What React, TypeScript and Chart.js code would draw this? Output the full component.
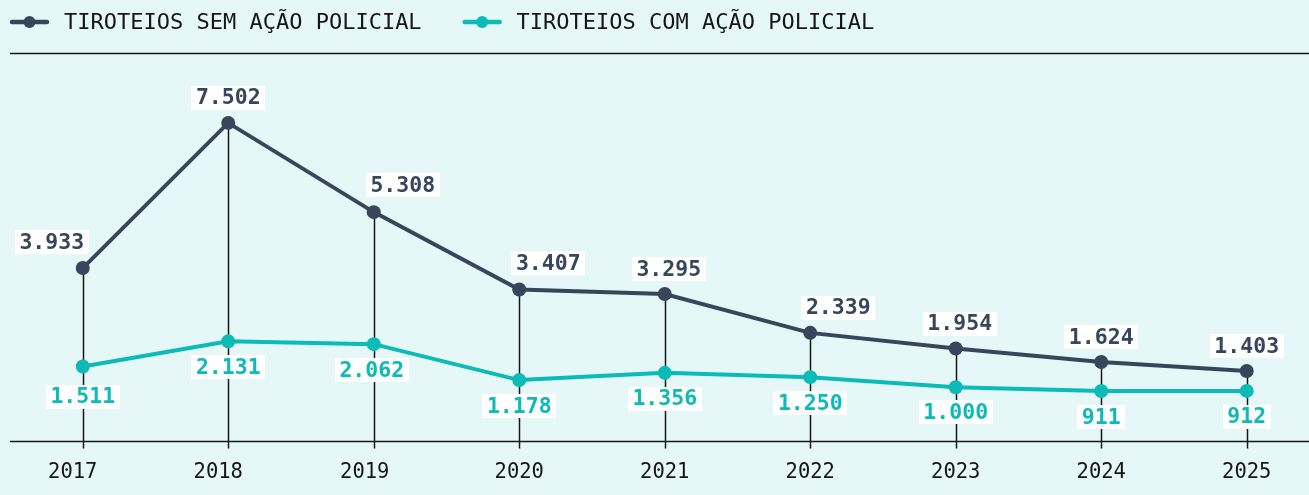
import { useEffect, useRef } from "react";
import { Chart, registerables } from "chart.js";

Chart.register(...registerables);

const years = [2017, 2018, 2019, 2020, 2021, 2022, 2023, 2024, 2025];
const semAcao = [3933, 7502, 5308, 3407, 3295, 2339, 1954, 1624, 1403];
const comAcao = [1511, 2131, 2062, 1178, 1356, 1250, 1000, 911, 912];
const seriesLabels = ["TIROTEIOS SEM AÇÃO POLICIAL", "TIROTEIOS COM AÇÃO POLICIAL"];

// label placement offsets (layout only)
const semOffsets = [[-31, -26], [0, -25], [29, -27], [29, -26], [4, -25], [28, -25], [4, -25], [0, -25], [0, -25]];
const comOffsets = [[0, 30], [0, 26], [-2, 26], [0, 26], [0, 26], [0, 26], [0, 25], [0, 26], [0, 26]];
const tickLabelShift = [-10, -10, -9, 0, 0, 0, 0, 0, 0];

const DARK = "#37465a";
const TEAL = "#0cbab7";
const BG = "#e6f7f7";
const INK = "#161616";
const FONT = "'DejaVu Sans Mono', 'Liberation Mono', monospace";

const fmt = (n: number) => String(n).replace(/\B(?=(\d{3})+(?!\d))/g, ".");

const overlay = {
  id: "overlay",
  beforeDatasetsDraw(chart: any) {
    const { ctx, chartArea, width } = chart;
    const xs = chart.scales.x;
    const m0 = chart.getDatasetMeta(0);
    ctx.save();
    ctx.strokeStyle = INK;
    ctx.lineWidth = 1.5;
    // axis line
    const ay = Math.round(chartArea.bottom) + 0.5;
    ctx.beginPath();
    ctx.moveTo(10, ay);
    ctx.lineTo(width, ay);
    ctx.stroke();
    // tick marks
    years.forEach((yr) => {
      const x = Math.round(xs.getPixelForValue(yr)) + 0.5;
      ctx.beginPath();
      ctx.moveTo(x, ay);
      ctx.lineTo(x, ay + 7);
      ctx.stroke();
    });
    // drop lines
    m0.data.forEach((p: any) => {
      ctx.beginPath();
      ctx.moveTo(Math.round(p.x) + 0.5, p.y);
      ctx.lineTo(Math.round(p.x) + 0.5, ay);
      ctx.stroke();
    });
    // tick labels
    ctx.font = `20.5px ${FONT}`;
    ctx.fillStyle = INK;
    ctx.textAlign = "center";
    ctx.textBaseline = "middle";
    years.forEach((yr, i) => {
      ctx.fillText(String(yr), xs.getPixelForValue(yr) + tickLabelShift[i], chartArea.bottom + 32);
    });
    // top rule
    ctx.beginPath();
    ctx.moveTo(10, 53.5);
    ctx.lineTo(width, 53.5);
    ctx.stroke();
    ctx.restore();
  },
  afterDatasetsDraw(chart: any) {
    const { ctx } = chart;
    ctx.save();
    ctx.font = `bold 21.5px ${FONT}`;
    ctx.textAlign = "center";
    ctx.textBaseline = "middle";
    const drawSet = (idx: number, vals: number[], offs: number[][], color: string) => {
      const meta = chart.getDatasetMeta(idx);
      meta.data.forEach((p: any, i: number) => {
        const t = fmt(vals[i]);
        const cx = p.x + offs[i][0];
        const cy = p.y + offs[i][1];
        const w = ctx.measureText(t).width + 9;
        const h = 24;
        ctx.fillStyle = "#ffffff";
        ctx.fillRect(Math.round(cx - w / 2), Math.round(cy - h / 2), Math.round(w), h);
        ctx.fillStyle = color;
        ctx.fillText(t, cx, cy + 1);
      });
    };
    drawSet(0, semAcao, semOffsets, DARK);
    drawSet(1, comAcao, comOffsets, TEAL);

    // legend
    ctx.font = `22px ${FONT}`;
    ctx.textBaseline = "middle";
    ctx.textAlign = "left";
    const colors = [DARK, TEAL];
    let x = 10;
    const y = 22;
    seriesLabels.forEach((lab, i) => {
      ctx.strokeStyle = colors[i];
      ctx.lineWidth = 4.5;
      ctx.lineCap = "round";
      ctx.beginPath();
      ctx.moveTo(x + 2, y);
      ctx.lineTo(x + 37, y);
      ctx.stroke();
      ctx.fillStyle = colors[i];
      ctx.beginPath();
      ctx.arc(x + 19.5, y, 6, 0, Math.PI * 2);
      ctx.fill();
      ctx.fillStyle = INK;
      ctx.fillText(lab, x + 54, y + 1);
      x += 54 + ctx.measureText(lab).width + 41;
    });
    ctx.restore();
  },
};

export default function App() {
  const ref = useRef<HTMLCanvasElement>(null);
  useEffect(() => {
    document.body.style.margin = "0";
    document.body.style.background = BG;
    const canvas = ref.current!;
    const chart = new Chart(canvas, {
      type: "line",
      data: {
        datasets: [
          {
            label: seriesLabels[0],
            data: years.map((yr, i) => ({ x: yr, y: semAcao[i] })),
            borderColor: DARK,
            backgroundColor: DARK,
            borderWidth: 4,
            pointRadius: 7,
            pointBackgroundColor: DARK,
            pointBorderWidth: 0,
            tension: 0,
            clip: false,
          },
          {
            label: seriesLabels[1],
            data: years.map((yr, i) => ({ x: yr, y: comAcao[i] })),
            borderColor: TEAL,
            backgroundColor: TEAL,
            borderWidth: 4,
            pointRadius: 7,
            pointBackgroundColor: TEAL,
            pointBorderWidth: 0,
            tension: 0,
            clip: false,
          },
        ],
      },
      options: {
        responsive: false,
        animation: false,
        devicePixelRatio: 1,
        layout: { autoPadding: false, padding: { top: 62, left: 10, right: 0, bottom: 54 } },
        plugins: { legend: { display: false }, tooltip: { enabled: false } },
        scales: {
          x: {
            type: "linear",
            display: false,
            min: 2016.5,
            max: 2025.428,
          },
          y: { display: false, min: -320, max: 9000 },
        },
      },
      plugins: [overlay],
    } as any);
    return () => chart.destroy();
  }, []);
  return (
    <div style={{ background: BG, width: 1309, height: 495 }}>
      <canvas ref={ref} width={1309} height={495} style={{ display: "block", width: 1309, height: 495 }} />
    </div>
  );
}
